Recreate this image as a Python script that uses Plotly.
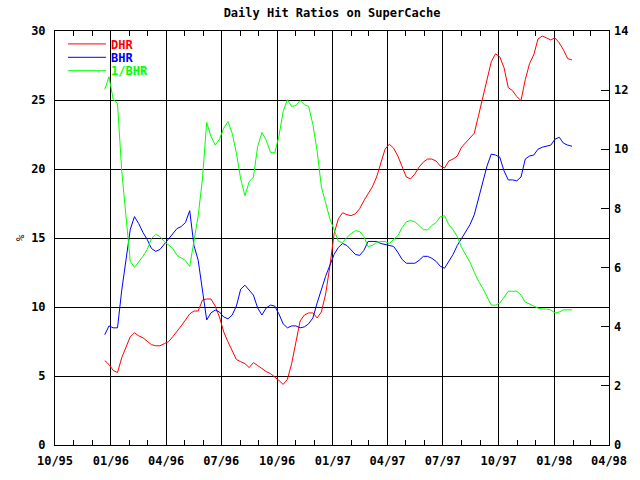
import pandas as pd
import plotly.graph_objects as go

# Weekly sample dates
dates = pd.date_range("1995-12-22", periods=111, freq="7D")

dhr = [6.12, 5.83, 5.40, 5.25, 6.33, 7.12, 7.84, 8.13, 7.91, 7.77,
       7.55, 7.27, 7.19, 7.19, 7.34, 7.48, 7.84, 8.20, 8.63, 9.06,
       9.50, 9.71, 9.71, 10.50, 10.58, 10.58, 10.07, 9.28, 8.20, 7.48,
       6.83, 6.19, 6.04, 5.90, 5.61, 5.97, 5.76, 5.54, 5.32, 5.18,
       4.96, 4.68, 4.39, 4.75, 5.90, 7.41, 8.99, 9.42, 9.57, 9.57,
       9.21, 9.64, 10.94, 12.95, 15.32, 16.40, 16.83, 16.69, 16.62, 16.76,
       17.12, 17.70, 18.20, 18.71, 19.42, 20.36, 21.44, 21.80, 21.51, 20.94,
       20.14, 19.42, 19.28, 19.64, 20.14, 20.50, 20.72, 20.72, 20.58, 20.22,
       20.07, 20.58, 20.72, 20.94, 21.58, 21.94, 22.23, 22.59, 23.88, 25.25,
       26.62, 27.77, 28.35, 28.13, 27.34, 25.90, 25.68, 25.25, 24.96, 26.47,
       27.63, 28.27, 29.42, 29.64, 29.50, 29.35, 29.50, 29.14, 28.63, 27.99,
       27.91]

bhr = [7.99, 8.63, 8.49, 8.49, 11.22, 13.53, 15.61, 16.55, 16.04, 15.40,
       14.89, 14.24, 14.03, 14.17, 14.53, 14.96, 15.32, 15.68, 15.83, 16.12,
       16.98, 14.46, 13.38, 11.22, 9.06, 9.57, 9.78, 9.64, 9.28, 9.14,
       9.42, 10.07, 11.29, 11.58, 11.22, 10.86, 9.93, 9.42, 9.93, 10.14,
       10.07, 9.50, 8.78, 8.49, 8.63, 8.63, 8.49, 8.56, 8.78, 9.21,
       10.29, 11.29, 12.23, 13.02, 13.81, 14.32, 14.60, 14.46, 14.10, 13.81,
       13.74, 14.10, 14.75, 14.75, 14.75, 14.60, 14.53, 14.46, 14.39, 13.96,
       13.45, 13.17, 13.17, 13.17, 13.38, 13.67, 13.67, 13.53, 13.31, 12.95,
       12.81, 13.31, 13.81, 14.46, 14.96, 15.47, 15.97, 16.69, 17.84, 19.06,
       20.22, 21.08, 21.01, 20.86, 19.86, 19.21, 19.21, 19.14, 19.42, 20.72,
       20.94, 21.01, 21.44, 21.58, 21.65, 21.73, 22.16, 22.30, 21.87, 21.73,
       21.65]

inv_bhr = [12.02, 12.45, 11.68, 11.55, 9.26, 7.59, 6.21, 6.01, 6.18, 6.38,
           6.61, 6.98, 7.12, 7.05, 6.88, 6.78, 6.65, 6.41, 6.31, 6.24,
           6.04, 6.88, 7.75, 9.00, 10.91, 10.44, 10.14, 10.34, 10.71, 10.94,
           10.54, 9.87, 9.00, 8.43, 8.90, 9.06, 10.10, 10.57, 10.31, 9.90,
           9.87, 10.44, 11.28, 11.68, 11.45, 11.48, 11.65, 11.51, 11.45, 10.84,
           9.94, 8.73, 8.22, 7.65, 7.28, 6.88, 6.85, 7.02, 7.15, 7.25,
           7.22, 7.05, 6.71, 6.75, 6.85, 6.88, 6.88, 6.81, 6.95, 7.08,
           7.35, 7.55, 7.59, 7.55, 7.42, 7.28, 7.28, 7.42, 7.52, 7.72,
           7.75, 7.45, 7.28, 7.05, 6.68, 6.41, 6.18, 5.84, 5.54, 5.30,
           5.00, 4.73, 4.73, 4.80, 5.00, 5.20, 5.20, 5.20, 5.07, 4.83,
           4.77, 4.70, 4.63, 4.60, 4.60, 4.57, 4.46, 4.50, 4.57, 4.57,
           4.57]

series_names = ["DHR", "BHR", "1/BHR"]
series_colors = ["#ff0000", "#0000ff", "#00ff00"]

FONT = "DejaVu Sans Mono"

fig = go.Figure()
fig.add_trace(go.Scatter(x=dates, y=dhr, mode="lines",
                         name=f"<span style='color:{series_colors[0]}'>{series_names[0]}</span>",
                         line=dict(color=series_colors[0], width=1), legend="legend"))
fig.add_trace(go.Scatter(x=dates, y=bhr, mode="lines",
                         name=f"<span style='color:{series_colors[1]}'>{series_names[1]}</span>",
                         line=dict(color=series_colors[1], width=1), legend="legend2"))
fig.add_trace(go.Scatter(x=dates, y=inv_bhr, mode="lines", yaxis="y2",
                         name=f"<span style='color:{series_colors[2]}'>{series_names[2]}</span>",
                         line=dict(color=series_colors[2], width=1), legend="legend3"))

legend_common = dict(font=dict(family=FONT, size=12, weight="bold"),
                     bgcolor="rgba(0,0,0,0)", borderwidth=0,
                     xanchor="left", yanchor="middle", x=0.0144, itemwidth=38)

fig.update_layout(
    width=640, height=480,
    margin=dict(l=55, r=28, t=31, b=32),
    paper_bgcolor="white", plot_bgcolor="white",
    font=dict(family=FONT, size=12, color="black"),
    title=dict(text="Daily Hit Ratios on SuperCache", x=0.5, xref="paper",
               y=1 - 13 / 480, yref="container", yanchor="middle", xanchor="center",
               font=dict(family=FONT, size=12, color="black", weight="bold")),
    showlegend=True,
    legend=dict(**legend_common, y=1 - 13 / 417),
    legend2=dict(**legend_common, y=1 - 26.5 / 417),
    legend3=dict(**legend_common, y=1 - 40 / 417),
    xaxis=dict(
        type="date", range=["1995-10-01", "1998-04-01"],
        tick0="1995-10-01", dtick="M3", tickformat="%m/%y",
        showgrid=True, gridcolor="black", gridwidth=1,
        showline=True, linecolor="black", linewidth=1, mirror="ticks",
        ticks="inside", ticklen=5, tickcolor="black", ticklabelstandoff=5,
        minor=dict(dtick="M1", ticks="inside", ticklen=5, tickcolor="black", showgrid=False),
        tickfont=dict(family=FONT, size=12, weight="bold"),
        zeroline=False,
    ),
    yaxis=dict(
        range=[0, 30], dtick=5, showgrid=True, gridcolor="black", gridwidth=1,
        showline=True, linecolor="black", linewidth=1, mirror=True,
        ticks="", zeroline=False, ticklabelstandoff=6,
        tickfont=dict(family=FONT, size=12, weight="bold"),
        title=dict(text="%", font=dict(family=FONT, size=11), standoff=4),
    ),
    yaxis2=dict(
        range=[0, 14], dtick=2, overlaying="y", side="right",
        showgrid=False, zeroline=False, showline=False,
        ticks="inside", ticklen=8, tickcolor="black", ticklabelstandoff=4,
        tickfont=dict(family=FONT, size=12, weight="bold"),
    ),
)

fig.write_html("out.html", config={"displayModeBar": False},
               post_script="document.body.style.margin='0';")
